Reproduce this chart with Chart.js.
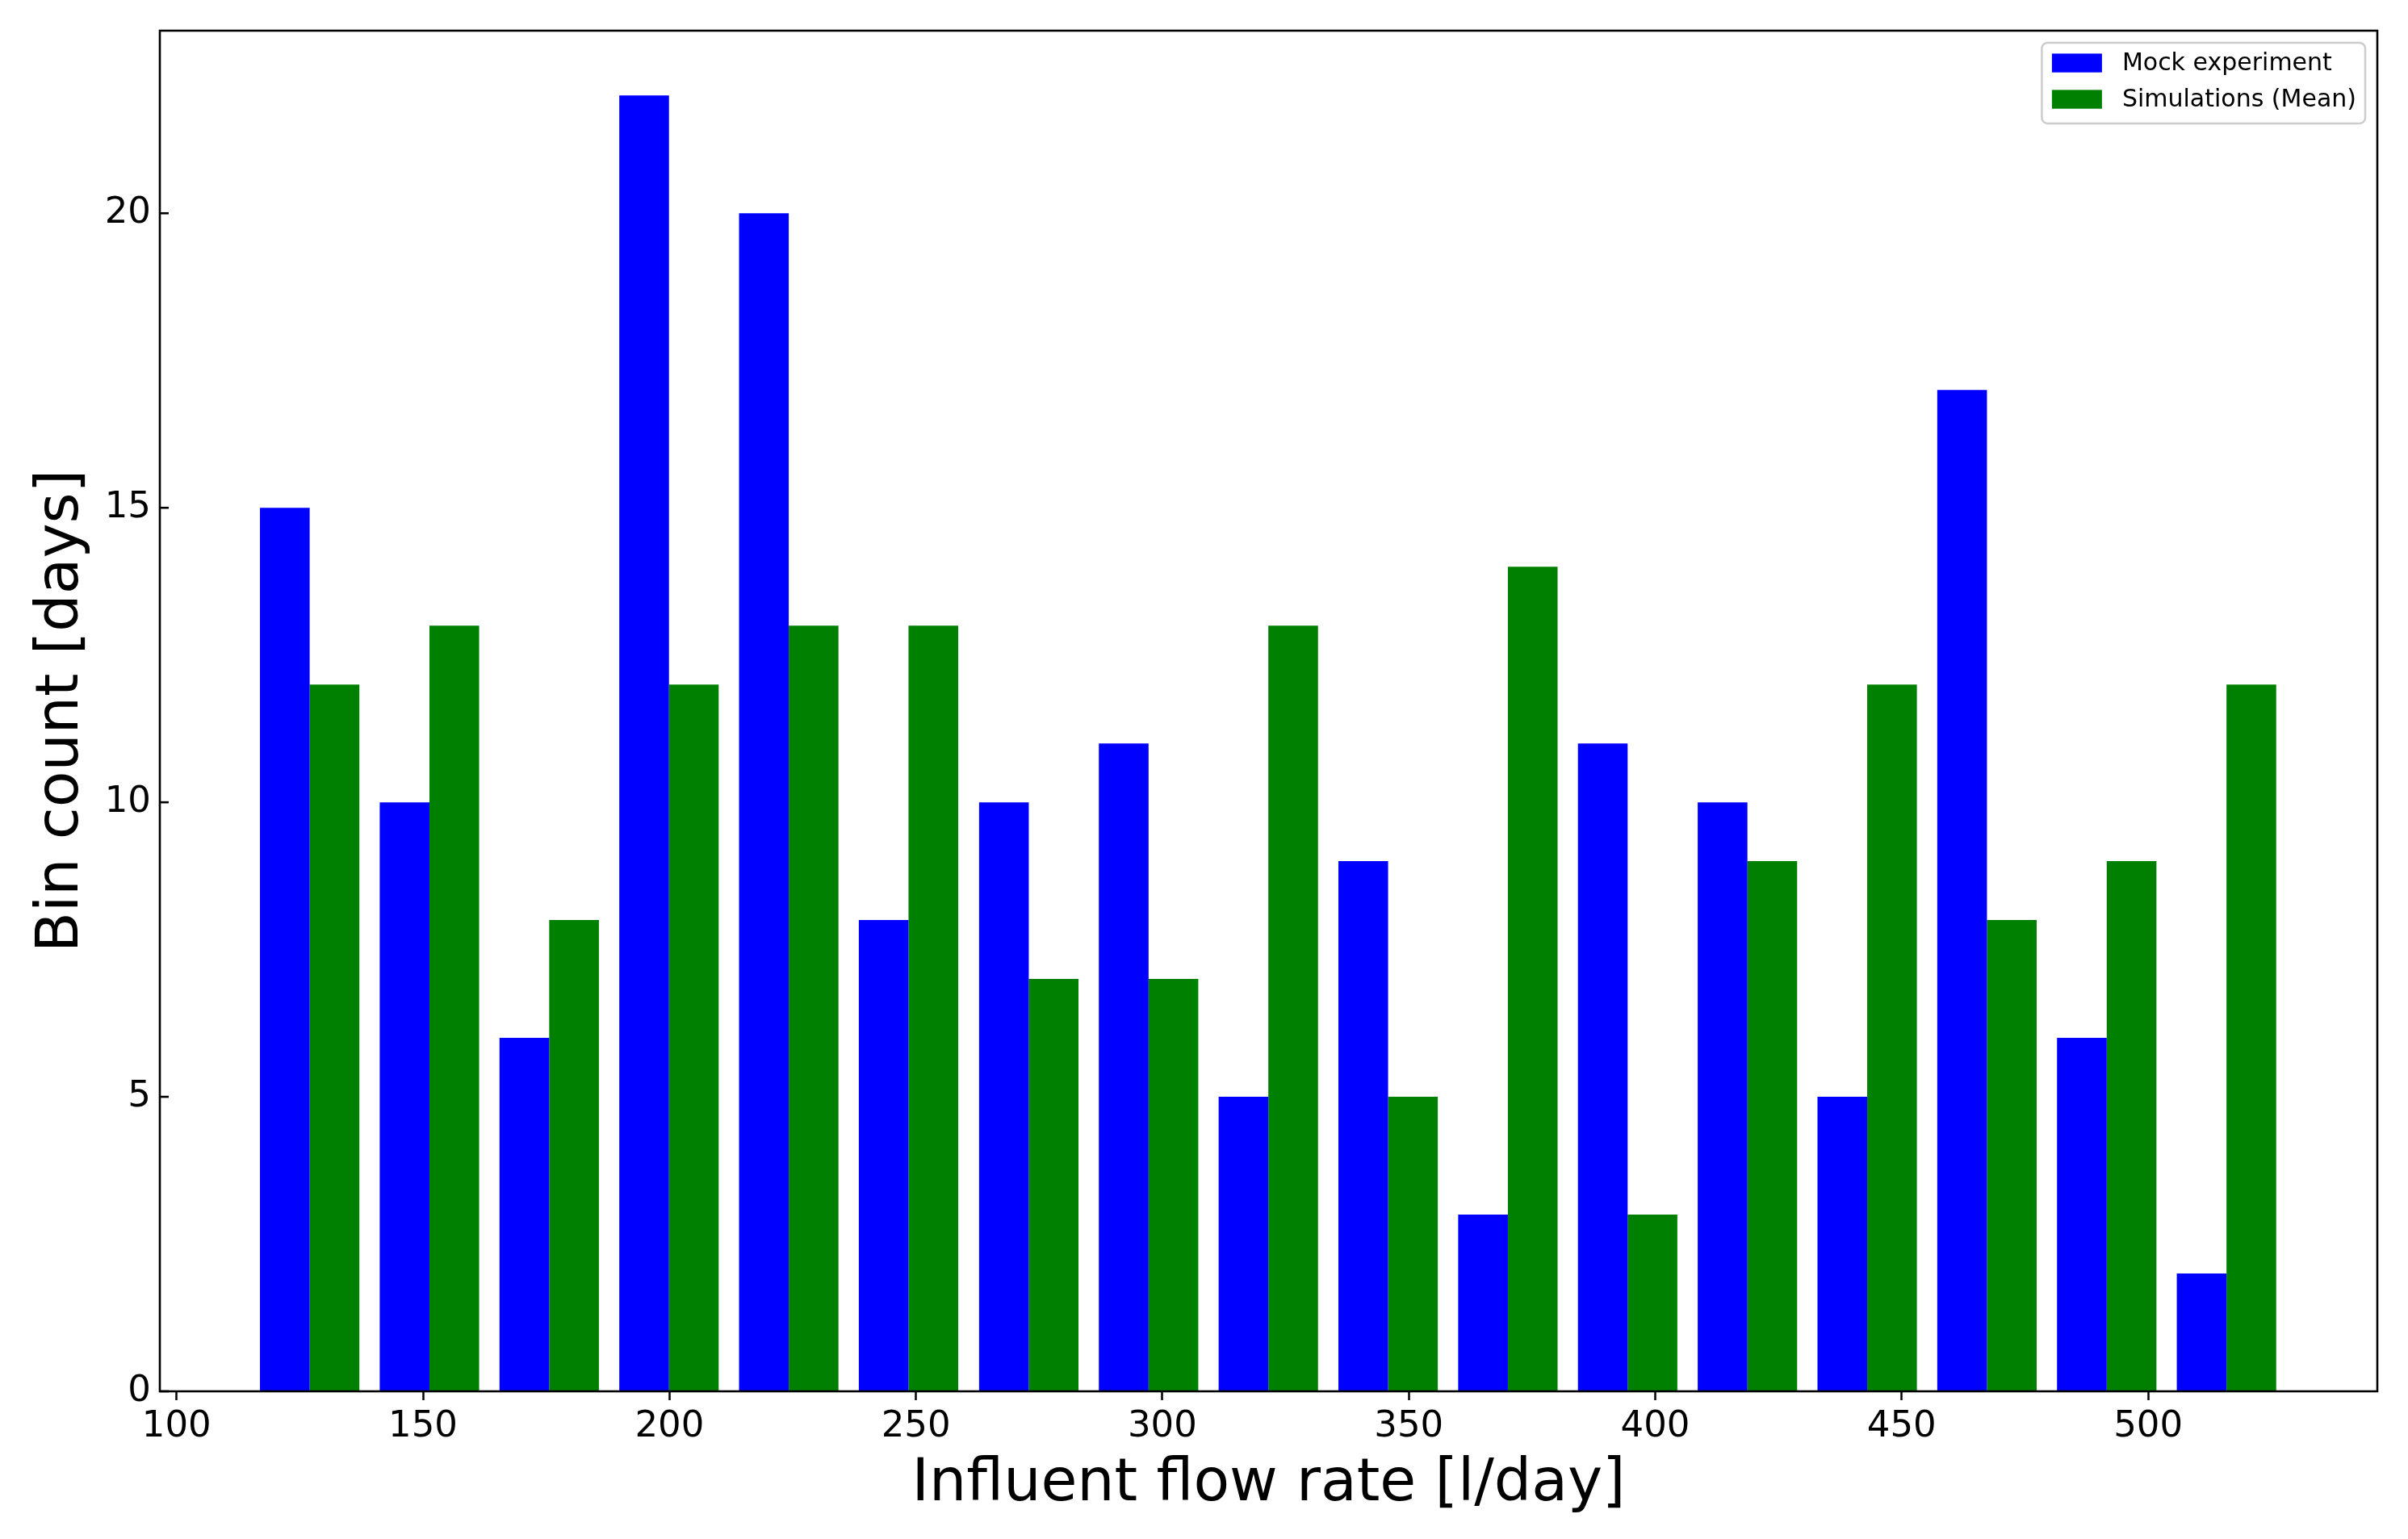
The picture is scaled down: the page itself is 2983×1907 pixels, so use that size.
<!DOCTYPE html>
<html>
<head>
<meta charset="utf-8">
<script src="https://cdn.jsdelivr.net/npm/chart.js@4.4.0/dist/chart.umd.min.js"></script>
<style>
  html, body { margin: 0; padding: 0; background: #fff; }
  #wrap { width: 2983px; height: 1907px; position: relative; }
</style>
</head>
<body>
<div id="wrap"><canvas id="chart"></canvas></div>
<script>
'use strict';

// ── Data ─────────────────────────────────────────────────────────────────────
// bin centres [l/day]
const BIN_CENTRES = [127.0, 151.3, 175.6, 199.9, 224.2, 248.5, 272.9, 297.2, 321.5,
                     345.8, 370.1, 394.4, 418.7, 443.0, 467.3, 491.6, 515.9];
const MOCK_COUNTS = [15, 10, 6, 22, 20, 8, 10, 11, 5, 9, 3, 11, 10, 5, 17, 6, 2];
const SIM_COUNTS  = [12, 13, 8, 12, 13, 13, 7, 7, 13, 5, 14, 3, 9, 12, 8, 9, 12];
const X_TICKS = [100, 150, 200, 250, 300, 350, 400, 450, 500];
const Y_TICKS = [0, 5, 10, 15, 20];
const X_RANGE = [96.6, 546.5];
const Y_RANGE = [0, 23.1];

const FONT = '"DejaVu Sans", "Liberation Sans", sans-serif';

const toPoints = vals => vals.map((v, i) => ({ x: BIN_CENTRES[i], y: v }));

// ── Frame, inward y ticks, legend ────────────────────────────────────────────
const framePlugin = {
  id: 'frame',
  afterDraw(chart) {
    const { ctx, chartArea: a, scales } = chart;
    ctx.save();
    ctx.strokeStyle = '#000';
    ctx.lineWidth = 2.6;

    // y ticks point into the plot
    Y_TICKS.forEach(v => {
      const y = scales.y.getPixelForValue(v);
      ctx.beginPath();
      ctx.moveTo(a.left, y);
      ctx.lineTo(a.left + 11, y);
      ctx.stroke();
    });
    ctx.strokeRect(a.left, a.top, a.right - a.left, a.bottom - a.top);

    // legend box, top right
    ctx.font = `30px ${FONT}`;
    const sets = chart.data.datasets;
    const textW = Math.max(...sets.map(d => ctx.measureText(d.label).width));
    const padL = 12.5, patchW = 62, gap = 25, padR = 11;
    const boxW = padL + patchW + gap + textW + padR;
    const boxH = 100;
    const bx = a.right - 15 - boxW, by = a.top + 15;

    ctx.beginPath();
    ctx.roundRect(bx, by, boxW, boxH, 7);
    ctx.fillStyle = 'rgba(255,255,255,0.8)';
    ctx.fill();
    ctx.strokeStyle = '#cccccc';
    ctx.lineWidth = 2.5;
    ctx.stroke();

    sets.forEach((d, i) => {
      const rowTop = by + 13.4 + i * 45;
      ctx.fillStyle = d.backgroundColor;
      ctx.fillRect(bx + padL, rowTop, patchW, 23.3);
      ctx.fillStyle = '#000';
      ctx.textAlign = 'left';
      ctx.textBaseline = 'alphabetic';
      ctx.fillText(d.label, bx + padL + patchW + gap, rowTop + 20.5);
    });
    ctx.restore();
  }
};

new Chart(document.getElementById('chart'), {
  type: 'bar',
  data: {
    datasets: [
      { label: 'Mock experiment',    data: toPoints(MOCK_COUNTS), backgroundColor: '#0000ff' },
      { label: 'Simulations (Mean)', data: toPoints(SIM_COUNTS),  backgroundColor: '#008000' },
    ],
  },
  options: {
    responsive: true,
    maintainAspectRatio: false,
    animation: false,
    devicePixelRatio: 1,
    layout: { padding: { top: 38, right: 38, left: 0, bottom: 0 } },
    datasets: { bar: { categoryPercentage: 0.83, barPercentage: 1.0, borderWidth: 0 } },
    plugins: { legend: { display: false }, tooltip: { enabled: false } },
    scales: {
      x: {
        type: 'linear',
        min: X_RANGE[0], max: X_RANGE[1],
        offset: false,
        afterBuildTicks: s => { s.ticks = X_TICKS.map(v => ({ value: v })); },
        afterFit: s => { s.height = 183; },
        border: { display: false },
        grid: {
          display: true, offset: false, drawOnChartArea: false, drawTicks: true,
          tickLength: 11, tickWidth: 2.5, tickColor: '#000',
        },
        ticks: { color: '#000', padding: 6, maxRotation: 0, autoSkip: false,
                 font: { family: FONT, size: 45 } },
        title: { display: true, text: 'Influent flow rate [l/day]', color: '#000',
                 font: { family: FONT, size: 73 }, padding: { top: 0, bottom: 23 } },
      },
      y: {
        type: 'linear',
        min: Y_RANGE[0], max: Y_RANGE[1],
        afterBuildTicks: s => { s.ticks = Y_TICKS.map(v => ({ value: v })); },
        afterFit: s => { s.width = 198; },
        border: { display: false },
        grid: { display: false, drawTicks: false },
        ticks: { color: '#000', padding: 11, autoSkip: false,
                 font: { family: FONT, size: 45 } },
        title: { display: true, text: 'Bin count [days]', color: '#000',
                 font: { family: FONT, size: 73 }, padding: { top: 33, bottom: 0 } },
      },
    },
  },
  plugins: [framePlugin],
});
</script>
</body>
</html>
